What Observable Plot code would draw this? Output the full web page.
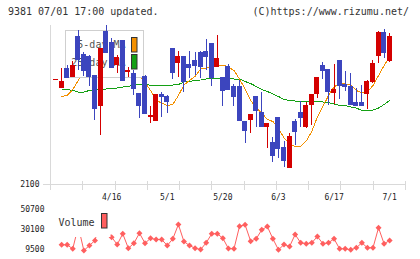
<!DOCTYPE html>
<html><head><meta charset="utf-8">
<script src="https://cdn.jsdelivr.net/npm/d3@7"></script>
<script src="https://cdn.jsdelivr.net/npm/@observablehq/plot@0.6"></script>
<style>
html,body{margin:0;padding:0;background:#fff;}
#chart{position:relative;width:420px;height:259px;overflow:hidden;font-family:"DejaVu Sans Mono",monospace;}
#chart svg{position:absolute;left:0;overflow:visible;}
.hdr{position:absolute;top:6px;font-size:10px;color:#333;line-height:12px;white-space:pre;}
</style></head><body>
<div id="chart">
<div class="hdr" style="left:8px">9381 07/01 17:00 updated.</div>
<div class="hdr" style="right:11px">(C)https://www.rizumu.net/</div>
</div>
<script>
// ---- data (bar index -1 .. 59) ----
const open  = [2310,2293,2332,2315,2396,2360,2356,2317,2257,2406,2384,2340,2388,2325,2322,2281,2316,2235,2227,2280,2276,2371,2343,2356,2340,2348,2364,2365,2381,2335,2314,2336,2296,2296,2226,2230,2275,2244,2215,2183,2234,2173,2133,2225,2243,2215,2259,2281,2338,2330,2283,2348,2300,2296,2263,2263,2281,2306,2357,2403,2347];
const high  = [2310,2333,2338,2346,2408,2364,2358,2317,2371,2418,2392,2358,2388,2335,2328,2282,2318,2256,2280,2285,2278,2372,2366,2356,2366,2364,2366,2390,2382,2398,2314,2340,2300,2309,2226,2240,2277,2285,2222,2195,2234,2186,2203,2231,2266,2265,2280,2315,2345,2330,2340,2348,2326,2323,2292,2298,2308,2348,2407,2411,2403];
const low   = [2310,2293,2313,2315,2328,2316,2296,2229,2199,2362,2332,2323,2308,2315,2278,2233,2242,2223,2227,2235,2243,2311,2315,2285,2312,2318,2313,2328,2296,2335,2256,2290,2256,2227,2183,2203,2215,2215,2173,2145,2153,2135,2133,2178,2215,2212,2219,2273,2311,2258,2260,2270,2287,2258,2256,2256,2250,2303,2343,2352,2345];
const close = [2310,2305,2313,2338,2350,2328,2315,2251,2371,2364,2333,2353,2308,2327,2292,2257,2242,2238,2280,2275,2265,2323,2356,2306,2333,2338,2335,2355,2313,2352,2288,2290,2276,2227,2208,2240,2248,2215,2221,2157,2171,2147,2195,2205,2233,2258,2280,2313,2328,2285,2290,2298,2295,2260,2258,2258,2306,2342,2404,2363,2396];
const ma5   = [null,2276,2278,2290,2308,2328,2330,2322,2326,2332,2336,2344,2348,2342,2332,2318,2304,2288,2268,2263,2258,2260,2278,2299,2308,2316,2331,2333,2335,2337,2339,2335,2328,2311,2291,2268,2253,2243,2230,2226,2212,2193,2181,2176,2176,2187,2206,2235,2256,2278,2295,2303,2301,2299,2288,2283,2285,2298,2318,2338,2356];
const ma25  = [null,2291,2290,2288,2285,2285,2288,2289,2291,2291,2292,2293,2295,2296,2299,2301,2301,2298,2299,2299,2299,2299,2300,2305,2306,2308,2309,2311,2313,2313,2313,2312,2311,2311,2306,2302,2296,2290,2286,2281,2276,2270,2268,2267,2266,2266,2266,2266,2265,2264,2261,2258,2258,2255,2253,2248,2249,2249,2253,2260,2268];
const volume= [null,14300,14300,10200,33200,8470,13600,18800,40000,31100,22200,14650,25700,10800,16000,26300,16000,21100,19800,19800,13600,20500,35250,17700,13600,10800,9500,16400,25700,25700,21100,10500,10200,33500,34900,18050,20500,29800,33200,20500,9200,14650,12600,24950,16400,15400,16400,22900,15400,16400,20500,10200,10200,9200,11250,16400,11250,11250,31850,15400,18800];
const tickIdx = [9,19,29,39,49,59];
const tickLabels = ["4/16","5/1","5/20","6/3","6/17","7/1"];
const volTicks = [9500,30100,50700];
const priceTicks = [2100];

const idx = d3.range(-1, 60);
const rows = idx.map((i,k)=>({i, o:open[k], h:high[k], l:low[k], c:close[k], m5:ma5[k], m25:ma25[k], v:volume[k]}));
const RED="#d40000", BLUE="#3c45be", ORANGE="#f39000", GREEN="#14a014", GRAY="#d9d9d9", VOL="#ff5f5f";
const col = d => d.c >= d.o ? RED : BLUE;
const xDomain = [-2, 61.85];
const gridTicks = d3.range(12).map(k => xDomain[0] + k*(xDomain[1]-xDomain[0])/11);
const FONT = "DejaVu Sans Mono, monospace";

function legendMain() {
  const g = d3.create("svg:g");
  g.append("rect").attr("x",65.5).attr("y",30.5).attr("width",78).attr("height",47)
    .attr("fill","#fff").attr("stroke","#cfcfcf");
  const t = [["5-day MA",45,ORANGE,37.5],["25-day MA",63,GREEN,54.5]];
  for (const [s,y,c,ry] of t) {
    g.append("text").attr("x",125.5).attr("y",y).attr("text-anchor","end")
      .attr("dominant-baseline","middle").attr("font-size",10).attr("font-family",FONT)
      .attr("fill","#555").text(s);
    g.append("rect").attr("x",131.5).attr("y",ry).attr("width",5.5).attr("height",14.5)
      .attr("fill",c).attr("stroke","#333");
  }
  return g.node();
}
function legendVol() {
  const g = d3.create("svg:g");
  g.append("rect").attr("x",55).attr("y",4).attr("width",55.5).attr("height",33).attr("fill","#fff");
  g.append("text").attr("x",58.5).attr("y",22.5).attr("text-anchor","start").attr("dominant-baseline","middle")
    .attr("font-size",10).attr("font-family",FONT).attr("fill","#333").text("Volume");
  g.append("rect").attr("x",101.5).attr("y",13.5).attr("width",5.5).attr("height",14.5)
    .attr("fill",VOL).attr("stroke","#333");
  return g.node();
}

const main = Plot.plot({
  width:420, height:200,
  marginLeft:50, marginRight:15, marginTop:25, marginBottom:16,
  x:{type:"linear", domain:xDomain, axis:null, label:null},
  y:{domain:[2100,2418], axis:null, label:null},
  color:{type:"identity"},
  style:{overflow:"visible", fontFamily:FONT, fontSize:"8px", background:"transparent", color:"#222"},
  marks:[
    Plot.ruleX([xDomain[0]], {y1:2088, y2:2418, stroke:GRAY, shapeRendering:"crispEdges"}),
    Plot.ruleY(priceTicks, {stroke:GRAY, shapeRendering:"crispEdges"}),
    Plot.ruleX(gridTicks, {y1:2106, y2:2088, stroke:GRAY, shapeRendering:"crispEdges"}),
    Plot.axisY({ticks:priceTicks, label:null, tickSize:7, tickPadding:4, stroke:GRAY, fill:"#222", tickFormat:d3.format("d")}),
    Plot.axisX({ticks:tickIdx, label:null, tickSize:0, tickPadding:10, fill:"#222", tickFormat:d => tickLabels[tickIdx.indexOf(d)]}),
    Plot.line(rows, {x:"i", y:"m25", stroke:GREEN, strokeWidth:1, shapeRendering:"crispEdges"}),
    Plot.line(rows, {x:"i", y:"m5", stroke:ORANGE, strokeWidth:1, shapeRendering:"crispEdges"}),
    legendMain,
    Plot.ruleX(rows, {x:"i", y1:"l", y2:"h", stroke:col, shapeRendering:"crispEdges"}),
    Plot.rect(rows, {x1:d=>d.i-0.45, x2:d=>d.i+0.45, y1:"o", y2:"c", fill:col, insetTop:-0.5, insetBottom:-0.5, shapeRendering:"crispEdges"})
  ]
});
main.style.top = "0px";

const vol = Plot.plot({
  width:420, height:59,
  marginLeft:50, marginRight:15, marginTop:9, marginBottom:10,
  x:{type:"linear", domain:xDomain, axis:null, label:null},
  y:{domain:[9500,50700], axis:null, label:null},
  style:{overflow:"visible", fontFamily:FONT, fontSize:"8px", background:"transparent", color:"#222"},
  marks:[
    Plot.axisY({ticks:volTicks, label:null, tickSize:0, tickPadding:6, fill:"#222", tickFormat:d3.format("d")}),
    Plot.line(rows, {x:"i", y:"v", stroke:VOL, strokeWidth:1}),
    Plot.dot(rows.filter(d=>d.v!=null), {x:"i", y:"v", symbol:"diamond2", r:2.7, fill:VOL, stroke:"none"}),
    legendVol
  ]
});
vol.style.top = "200px";

const chart = document.getElementById("chart");
chart.appendChild(main);
chart.appendChild(vol);
</script>
</body></html>
